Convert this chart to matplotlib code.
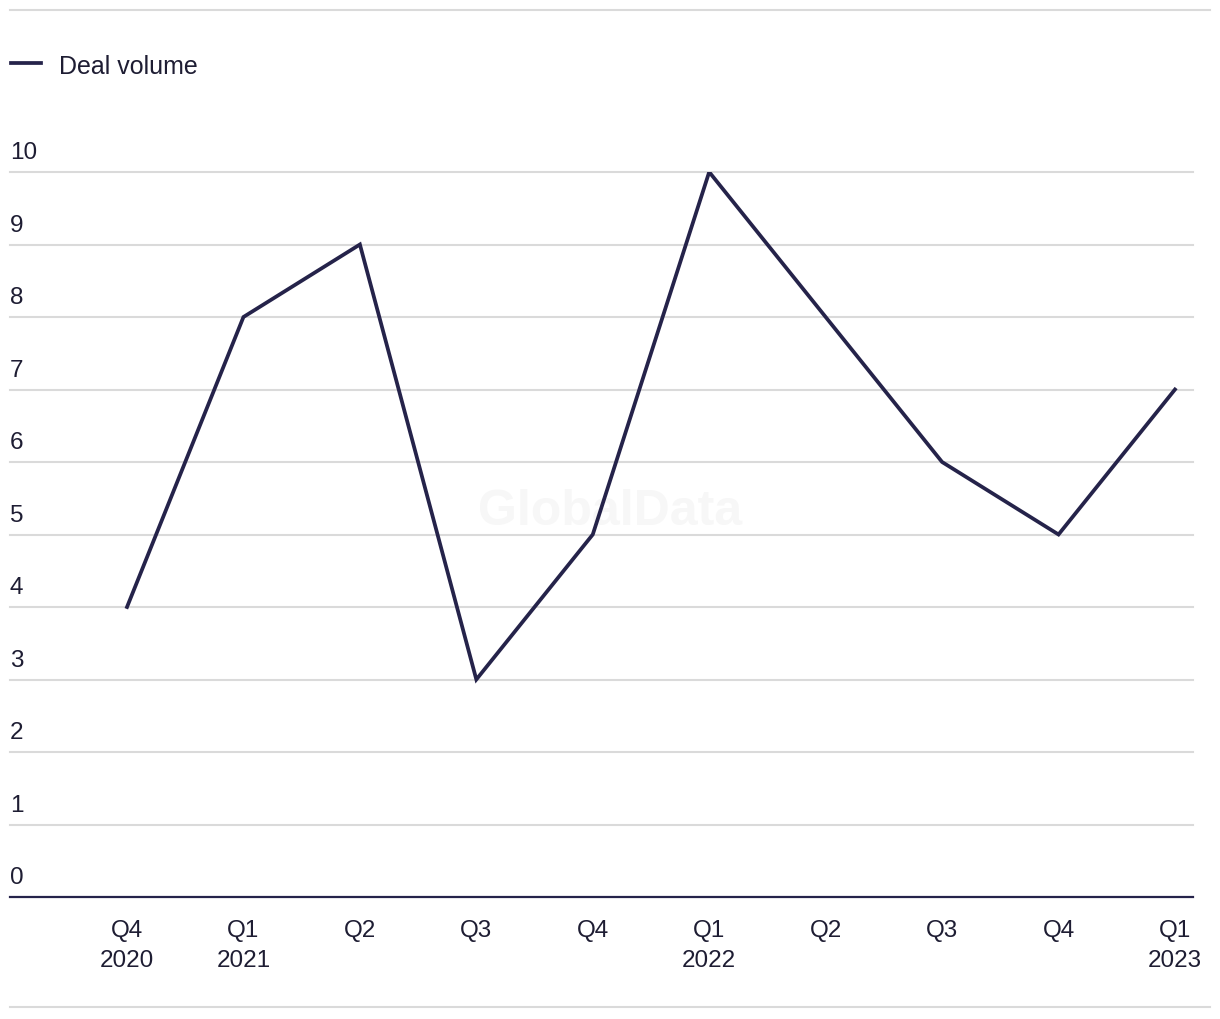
import numpy as np
import matplotlib.pyplot as plt
from matplotlib.lines import Line2D

# データ
quarters = ['Q4\n2020', 'Q1\n2021', 'Q2', 'Q3', 'Q4', 'Q1\n2022', 'Q2', 'Q3', 'Q4', 'Q1\n2023']
deal_volume = [4, 8, 9, 3, 5, 10, 8, 6, 5, 7]
yticks = list(range(0, 11))

plt.rcParams['font.family'] = ['Liberation Sans', 'DejaVu Sans']
line_color = '#25234a'
text_color = '#1e1d33'
grid_color = '#dadada'

fig = plt.figure(figsize=(12.2, 10.2), dpi=100)
W, H = 1220, 1020
# 軸: x 10..1193 px, y 0 -> 898 px, 10 -> 173 px
ax = fig.add_axes([10 / W, (H - 898) / H, (1193 - 10) / W, (898 - 173) / H])

x = np.arange(len(quarters))
ax.plot(x, deal_volume, color=line_color, lw=2.7, solid_joinstyle='miter', zorder=3)

ax.set_ylim(0, 10)
ax.set_xlim(-1.005, 9.155)

for v in yticks[1:]:
    ax.axhline(v, color=grid_color, lw=1.5, zorder=1, clip_on=False)
ax.axhline(0, color=line_color, lw=1.6, zorder=2, clip_on=False)

for v in yticks:
    ax.text(0, v + 0.12, str(v), transform=ax.get_yaxis_transform(),
            ha='left', va='bottom', fontsize=17.5, color=text_color)

ax.set_xticks(x)
ax.set_xticklabels(quarters, fontsize=17.5, color=text_color, linespacing=1.45)
ax.tick_params(axis='x', length=0, pad=16)
ax.set_yticks([])
for s in ax.spines.values():
    s.set_visible(False)

# ウォーターマーク (線の後ろ)
ax.text(610 / W, 1 - 512 / H, 'GlobalData', fontsize=36, fontweight='bold',
        color='#f7f7f7', ha='center', va='center', zorder=0,
        transform=fig.transFigure)

# 上下の枠線
fig.add_artist(Line2D([10 / W, 1210 / W], [1 - 11 / H, 1 - 11 / H], color=grid_color, lw=1.5))
fig.add_artist(Line2D([10 / W, 1210 / W], [1 - 1008 / H, 1 - 1008 / H], color=grid_color, lw=1.5))

# 凡例
fig.add_artist(Line2D([11 / W, 41 / W], [1 - 64 / H, 1 - 64 / H], color=line_color, lw=2.7))
fig.text(59 / W, 1 - 67 / H, 'Deal volume', fontsize=18, color=text_color, va='center', ha='left')

fig.savefig('out.png', dpi=100)
